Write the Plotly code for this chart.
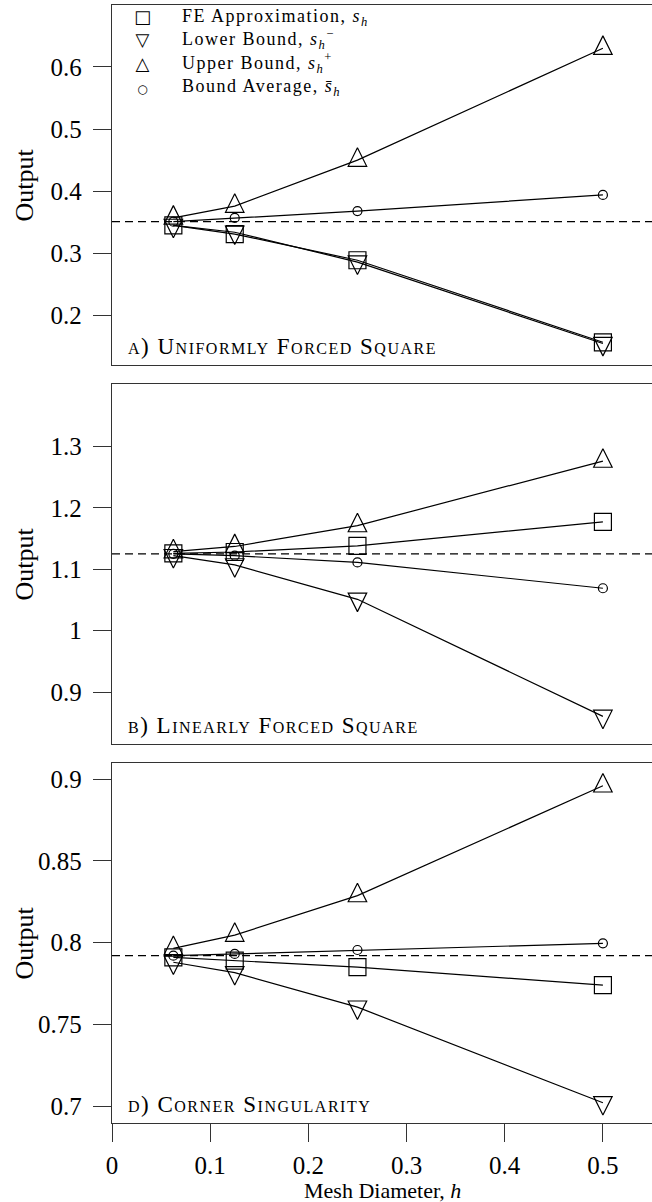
import plotly.graph_objects as go

# ---------------- data ----------------
h = [0.0625, 0.125, 0.25, 0.5]

a_fe = [0.345, 0.331, 0.289, 0.157]
a_lower = [0.345, 0.334, 0.286, 0.155]
a_upper = [0.357, 0.376, 0.450, 0.630]
a_avg = [0.351, 0.357, 0.368, 0.394]
a_ref = 0.351

b_fe = [1.1256, 1.128, 1.138, 1.177]
b_lower = [1.122, 1.107, 1.051, 0.8605]
b_upper = [1.1286, 1.137, 1.171, 1.276]
b_avg = [1.125, 1.122, 1.111, 1.069]
b_ref = 1.125

c_fe = [0.791, 0.789, 0.785, 0.774]
c_lower = [0.788, 0.7816, 0.7605, 0.702]
c_upper = [0.7965, 0.8046, 0.8288, 0.896]
c_avg = [0.792, 0.7931, 0.7955, 0.7996]
c_ref = 0.792

panel_titles = ["a) Uniformly Forced Square", "b) Linearly Forced Square", "d) Corner Singularity"]
ytick_sets = [[0.2, 0.3, 0.4, 0.5, 0.6], [0.9, 1.0, 1.1, 1.2, 1.3], [0.7, 0.75, 0.8, 0.85, 0.9]]
yranges = [[0.121, 0.699], [0.816, 1.401], [0.6898, 0.9098]]
xticks = [0, 0.1, 0.2, 0.3, 0.4, 0.5]
legend_names = ["FE Approximation, <i>s</i><sub><i>h</i></sub>",
                "Lower Bound, <i>s</i><sub><i>h</i></sub><sup>\u2212</sup>",
                "Upper Bound, <i>s</i><sub><i>h</i></sub><sup>+</sup>",
                "Bound Average, <i>s\u0304</i><sub><i>h</i></sub>"]
legend_glyphs = ["\u25a1", "\u25bd", "\u25b3",
                 "<span style='font-size:12px'>\u25cb</span>"]

panels = [(a_fe, a_lower, a_upper, a_avg, a_ref),
          (b_fe, b_lower, b_upper, b_avg, b_ref),
          (c_fe, c_lower, c_upper, c_avg, c_ref)]

# ---------------- layout constants ----------------
W, H = 652, 1202
ML = 112
PW = W - ML
FONT = "Liberation Serif, Times New Roman, serif"
INK = "#000"
FRAME = "#333"
domains = [[0.6966, 0.9956], [0.3813, 0.6803], [0.0660, 0.3650]]
TRI = 18.5      # triangle marker size (px)
SQ = 17
CIR = 9
LW = 1.2


def spaced(text, px):
    return f"<span style='letter-spacing:{px}px'>{text}</span>"


fig = go.Figure()
layout = dict(
    width=W, height=H,
    margin=dict(l=ML, r=0, t=0, b=0),
    paper_bgcolor="white", plot_bgcolor="white",
    font=dict(family=FONT, color=INK, size=16),
    showlegend=False,
)
annotations = []
shapes = []

for i, (fe, lo, up, av, ref) in enumerate(panels):
    n = i + 1
    xa = "x" if n == 1 else f"x{n}"
    ya = "y" if n == 1 else f"y{n}"
    yu = f"y{n + 3}"
    yd = f"y{n + 6}"
    r0, r1 = yranges[i]
    ppu = (domains[i][1] - domains[i][0]) * H / (r1 - r0)
    d = (2.0 / 3.0) * TRI / ppu

    xkey = "xaxis" if n == 1 else f"xaxis{n}"
    ykey = "yaxis" if n == 1 else f"yaxis{n}"
    bottom = (n == 3)
    layout[xkey] = dict(
        domain=[0, 1], range=[0, 0.55], anchor=ya,
        showline=True, mirror=True, linecolor=FRAME, linewidth=1.3,
        showgrid=False, zeroline=False,
        tickvals=xticks, ticks="outside" if bottom else "",
        ticklen=18, tickwidth=1.3, tickcolor=FRAME,
        showticklabels=bottom, ticklabelstandoff=2,
        tickfont=dict(family=FONT, size=25, color=INK),
        fixedrange=True,
    )
    layout[ykey] = dict(
        domain=domains[i], range=[r0, r1], anchor=xa,
        showline=True, mirror=False, linecolor=FRAME, linewidth=1.3,
        showgrid=False, zeroline=False,
        tickvals=ytick_sets[i], ticks="outside", ticklen=18,
        tickwidth=1.3, tickcolor=FRAME, ticklabelstandoff=6,
        tickfont=dict(family=FONT, size=25, color=INK),
        fixedrange=True,
    )
    # overlay scales so that the triangle markers are centred on their centroid
    layout[f"yaxis{n + 3}"] = dict(overlaying=ya, anchor=xa, range=[r0 - d, r1 - d],
                                   visible=False, fixedrange=True)
    layout[f"yaxis{n + 6}"] = dict(overlaying=ya, anchor=xa, range=[r0 + d, r1 + d],
                                   visible=False, fixedrange=True)

    line = dict(color="black", width=LW)
    for ser in (fe, lo, up, av):
        fig.add_trace(go.Scatter(x=h, y=ser, mode="lines", line=line,
                                 xaxis=xa, yaxis=ya, hoverinfo="skip"))
    fig.add_trace(go.Scatter(x=h, y=fe, mode="markers", xaxis=xa, yaxis=ya,
                             name="FE Approximation",
                             marker=dict(symbol="square-open", size=SQ, color="black",
                                         line=dict(width=LW, color="black"))))
    fig.add_trace(go.Scatter(x=h, y=av, mode="markers", xaxis=xa, yaxis=ya,
                             name="Bound Average",
                             marker=dict(symbol="circle-open", size=CIR, color="black",
                                         line=dict(width=LW, color="black"))))
    fig.add_trace(go.Scatter(x=h, y=up, mode="markers", xaxis=xa, yaxis=yu,
                             name="Upper Bound",
                             marker=dict(symbol="arrow-up-open", size=TRI, color="black",
                                         line=dict(width=LW, color="black"))))
    fig.add_trace(go.Scatter(x=h, y=lo, mode="markers", xaxis=xa, yaxis=yd,
                             name="Lower Bound",
                             marker=dict(symbol="arrow-down-open", size=TRI, color="black",
                                         line=dict(width=LW, color="black"))))

    shapes.append(dict(type="line", xref=f"{xa} domain", yref=ya, x0=0, x1=1, y0=ref, y1=ref,
                       line=dict(color="black", width=1.2, dash="8px,5px"), layer="below"))

    annotations.append(dict(text=spaced(panel_titles[i], 1.5), xref=f"{xa} domain",
                            yref=f"{ya} domain", x=0, y=0, xanchor="left", yanchor="bottom",
                            xshift=14, yshift=4, showarrow=False,
                            font=dict(family=FONT, size=23, color=INK, variant="small-caps")))
    annotations.append(dict(text="Output", xref="paper", yref="paper", x=0,
                            y=(domains[i][0] + domains[i][1]) / 2, xanchor="center",
                            yanchor="middle", xshift=-87.5, textangle=-90, showarrow=False,
                            font=dict(family=FONT, size=26, color=INK)))

annotations.append(dict(text="Mesh Diameter, <i>h</i>", xref="paper", yref="paper",
                        x=0.5, y=1 - 1190 / H, xanchor="center", yanchor="middle",
                        showarrow=False, font=dict(family=FONT, size=22, color=INK)))

# legend block (top-left of panel a), symbols and labels as two aligned text columns
LEG_TOP = 4
annotations.append(dict(text="<br>".join(legend_glyphs), xref="paper", yref="paper",
                        x=(142 - ML) / PW, y=1 - LEG_TOP / H, xanchor="center",
                        yanchor="top", align="center", showarrow=False,
                        font=dict(family="DejaVu Sans", size=18, color=INK)))
annotations.append(dict(text="<br>".join(spaced(t, 1.5) for t in legend_names),
                        xref="paper", yref="paper",
                        x=(180 - ML) / PW, y=1 - LEG_TOP / H, xanchor="left",
                        yanchor="top", align="left", showarrow=False,
                        font=dict(family=FONT, size=18, color=INK)))

layout["annotations"] = annotations
layout["shapes"] = shapes
fig.update_layout(**layout)
fig.write_html("out.html",
               config={"displayModeBar": False},
               post_script="document.body.style.margin='0px';document.body.style.padding='0px';")
